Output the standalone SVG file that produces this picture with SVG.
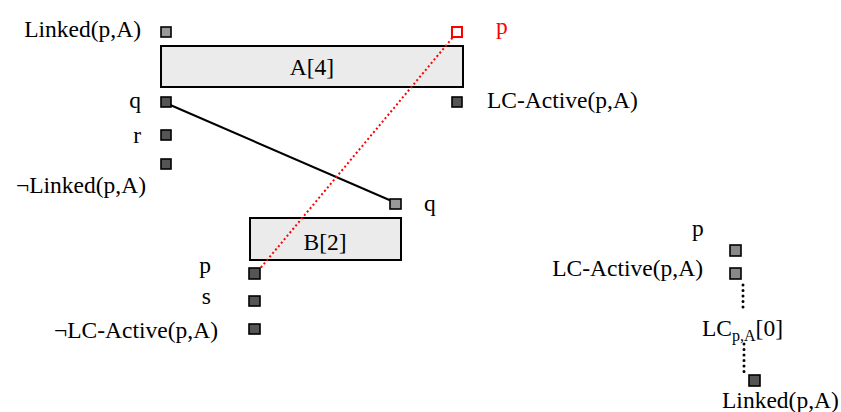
<svg xmlns="http://www.w3.org/2000/svg" width="841" height="412" viewBox="0 0 841 412" font-family="'Liberation Serif', 'Times New Roman', Times, serif" font-size="23.5">
<style>
text{font-family:'Liberation Serif','Times New Roman',Times,serif;font-size:23.5px;fill:#000}
.e{text-anchor:end}
.m{text-anchor:middle}
.box{fill:#ebebeb;stroke:#000;stroke-width:2}
.sq{stroke:#000;stroke-width:1.6}
.d{fill:#555}
.l{fill:#999}
.g{fill:#888}
.dot{stroke:#000;stroke-width:3;stroke-dasharray:0,5.5;stroke-linecap:round}
</style>
<rect width="841" height="412" fill="#fff"/>
<g id="A4"><rect class="box" x="161" y="46" width="302" height="41"/><text class="m" x="312" y="75">A[4]</text></g>
<g id="B2"><rect class="box" x="250" y="218" width="151" height="42"/><text class="m" x="325" y="250">B[2]</text></g>
<g id="connectors">
<line x1="168" y1="104" x2="394" y2="202" stroke="#000" stroke-width="2"/>
<line x1="258" y1="271" x2="454" y2="36" stroke="#f00" stroke-width="2" stroke-dasharray="2,2.5"/>
<line class="dot" x1="743" y1="285" x2="743" y2="312"/>
<line class="dot" x1="744" y1="344" x2="744" y2="377"/>
</g>
<g id="linkedA"><rect class="sq l" x="161" y="27" width="10" height="10"/><text class="e" x="141" y="37">Linked(p,A)</text></g>
<g id="pA"><rect x="452" y="27" width="10" height="10" fill="#fff" stroke="#f00" stroke-width="2"/><text x="496" y="34" style="fill:#f00">p</text></g>
<g id="qA"><rect class="sq d" x="161" y="97" width="10" height="10"/><text class="e" x="141" y="108">q</text></g>
<g id="rA"><rect class="sq d" x="161" y="130" width="10" height="10"/><text class="e" x="141" y="143">r</text></g>
<g id="notLinkedA"><rect class="sq d" x="161" y="159" width="10" height="10"/><text class="e" x="146" y="193">¬Linked(p,A)</text></g>
<g id="lcActiveA"><rect class="sq d" x="452" y="97" width="10" height="10"/><text x="487" y="108">LC-Active(p,A)</text></g>
<g id="qB"><rect class="sq l" x="390" y="199" width="11" height="10"/><text x="424" y="211">q</text></g>
<g id="pB"><rect class="sq d" x="249" y="268" width="11" height="11"/><text class="e" x="211" y="273">p</text></g>
<g id="sB"><rect class="sq d" x="249" y="296" width="11" height="10"/><text class="e" x="211" y="304">s</text></g>
<g id="notLcActiveB"><rect class="sq d" x="249" y="324" width="11" height="10"/><text class="e" x="218" y="338">¬LC-Active(p,A)</text></g>
<g id="pR"><rect class="sq g" x="730" y="245" width="11" height="11"/><text x="692" y="236">p</text></g>
<g id="lcActiveR"><rect class="sq g" x="730" y="268" width="11" height="11"/><text class="e" x="703" y="276">LC-Active(p,A)</text></g>
<g id="lc0"><text x="702" y="336">LC<tspan font-size="16" dy="5">p,A</tspan><tspan dy="-5">[0]</tspan></text></g>
<g id="linkedR"><rect class="sq d" x="749" y="375" width="11" height="11"/><text x="722" y="408">Linked(p,A)</text></g>
</svg>
